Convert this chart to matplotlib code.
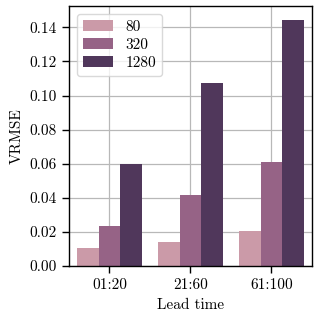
import matplotlib
matplotlib.use("Agg")
import matplotlib.pyplot as plt
import numpy as np

# data
lead_times = ["01:20", "21:60", "61:100"]
resolutions = ["80", "320", "1280"]
vrmse_80 = [0.0106, 0.0141, 0.0204]
vrmse_320 = [0.0235, 0.0415, 0.0610]
vrmse_1280 = [0.0598, 0.1073, 0.1443]
colors = ["#cb9aa8", "#966386", "#50375b"]

plt.rcParams["font.family"] = "serif"
plt.rcParams["font.serif"] = ["cmr10", "DejaVu Serif"]
plt.rcParams["axes.formatter.use_mathtext"] = True
plt.rcParams["font.size"] = 11

fig = plt.figure(figsize=(3.19, 3.19), dpi=100)
ax = fig.add_axes([0.216, 0.166, 0.762, 0.815])

x = np.arange(len(lead_times))
width = 0.8 / 3
series = [vrmse_80, vrmse_320, vrmse_1280]
for i, (vals, lab) in enumerate(zip(series, resolutions)):
    ax.bar(x + (i - 1) * width, vals, width, color=colors[i], label=lab, zorder=2)

ax.set_xticks(x)
ax.set_xticklabels(lead_times)
ax.set_xlim(-0.5, 2.5)
ax.set_ylim(0, 0.1525)
ax.set_yticks(np.arange(0, 0.15, 0.02))
ax.set_yticklabels(["%.2f" % v for v in np.arange(0, 0.15, 0.02)])
ax.grid(True, color="#b8b8b8", linewidth=0.9, zorder=0)
ax.set_axisbelow(True)
for s in ax.spines.values():
    s.set_color("black")
    s.set_linewidth(1.0)
ax.tick_params(direction="out", length=5, width=1.0, color="black", pad=4)
ax.set_xlabel("Lead time")
ax.set_ylabel("VRMSE")
ax.legend(loc="upper left", frameon=True, fancybox=True, framealpha=0.8,
          edgecolor="#d0d0d0", handlelength=2.0, borderpad=0.4, labelspacing=0.3)

fig.savefig("out.png", dpi=100)
